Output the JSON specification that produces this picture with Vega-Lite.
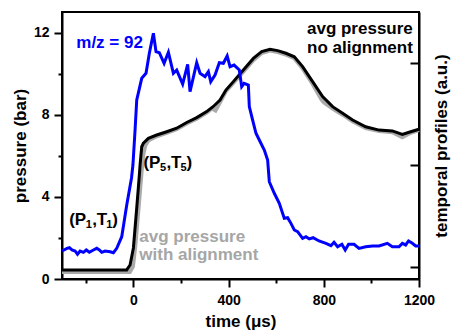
{
  "$schema": "https://vega.github.io/schema/vega-lite/v6.json",
  "width": 357,
  "height": 267,
  "autosize": "none",
  "padding": {"left": 62, "top": 12, "right": 33, "bottom": 51},
  "background": "white",
  "config": {
    "view": {"stroke": "black", "strokeWidth": 2},
    "font": "Liberation Sans",
    "axis": {
      "domainColor": "black", "domainWidth": 2,
      "tickColor": "black", "tickWidth": 2,
      "labelFont": "Liberation Sans", "labelFontWeight": "bold", "labelFontSize": 14, "labelColor": "black",
      "titleFont": "Liberation Sans", "titleFontWeight": "bold", "titleFontSize": 17, "titleColor": "black",
      "grid": false
    }
  },
  "datasets": {
    "blue": [
      {"t":-300,"v":0.157},{"t":-279,"v":0.183},{"t":-269,"v":0.189},{"t":-258,"v":0.167},{"t":-245,"v":0.157},{"t":-235,"v":0.125},{"t":-224,"v":0.157},{"t":-210,"v":0.144},{"t":-198,"v":0.167},{"t":-185,"v":0.144},{"t":-168,"v":0.167},{"t":-154,"v":0.183},{"t":-143,"v":0.167},{"t":-133,"v":0.144},{"t":-119,"v":0.157},{"t":-98,"v":0.150},{"t":-84,"v":0.140},{"t":-70,"v":0.183},{"t":-49,"v":0.297},{"t":-28,"v":0.608},{"t":-8,"v":0.873},{"t":-2,"v":1.0},{"t":7,"v":1.343},{"t":14,"v":1.637},{"t":35,"v":1.850},{"t":53,"v":1.899},{"t":67,"v":2.095},{"t":84,"v":2.291},{"t":95,"v":2.111},{"t":109,"v":2.101},{"t":129,"v":1.997},{"t":147,"v":2.105},{"t":168,"v":1.899},{"t":182,"v":1.931},{"t":207,"v":1.794},{"t":228,"v":1.987},{"t":238,"v":1.719},{"t":266,"v":2.003},{"t":280,"v":1.899},{"t":301,"v":1.866},{"t":315,"v":1.915},{"t":325,"v":1.817},{"t":343,"v":1.882},{"t":361,"v":2.003},{"t":378,"v":1.997},{"t":394,"v":2.069},{"t":406,"v":1.964},{"t":423,"v":1.980},{"t":445,"v":1.931},{"t":455,"v":1.768},{"t":465,"v":1.801},{"t":483,"v":1.784},{"t":487,"v":1.572},{"t":501,"v":1.441},{"t":515,"v":1.311},{"t":529,"v":1.245},{"t":550,"v":1.147},{"t":564,"v":1.049},{"t":571,"v":0.836},{"t":592,"v":0.723},{"t":613,"v":0.625},{"t":634,"v":0.477},{"t":648,"v":0.483},{"t":662,"v":0.428},{"t":676,"v":0.363},{"t":690,"v":0.346},{"t":711,"v":0.281},{"t":725,"v":0.297},{"t":739,"v":0.275},{"t":755,"v":0.287},{"t":780,"v":0.255},{"t":809,"v":0.232},{"t":830,"v":0.209},{"t":843,"v":0.242},{"t":858,"v":0.199},{"t":876,"v":0.223},{"t":890,"v":0.167},{"t":904,"v":0.223},{"t":927,"v":0.223},{"t":948,"v":0.183},{"t":976,"v":0.199},{"t":1005,"v":0.206},{"t":1032,"v":0.206},{"t":1067,"v":0.232},{"t":1088,"v":0.199},{"t":1116,"v":0.199},{"t":1130,"v":0.232},{"t":1144,"v":0.216},{"t":1156,"v":0.255},{"t":1172,"v":0.232},{"t":1186,"v":0.206},{"t":1200,"v":0.206}
    ],
    "black": [
      {"t":-300,"p":0.44},{"t":-28,"p":0.44},{"t":-14,"p":0.68},{"t":0,"p":1.51},{"t":14,"p":3.46},{"t":25,"p":5.06},{"t":28,"p":5.55},{"t":35,"p":6.44},{"t":42,"p":6.61},{"t":63,"p":6.85},{"t":98,"p":7.01},{"t":140,"p":7.17},{"t":182,"p":7.34},{"t":224,"p":7.62},{"t":266,"p":7.86},{"t":308,"p":8.15},{"t":336,"p":8.40},{"t":364,"p":8.71},{"t":389,"p":9.20},{"t":420,"p":9.61},{"t":462,"p":10.18},{"t":504,"p":10.74},{"t":539,"p":11.07},{"t":574,"p":11.18},{"t":606,"p":11.12},{"t":641,"p":10.99},{"t":676,"p":10.82},{"t":711,"p":10.34},{"t":753,"p":9.61},{"t":795,"p":8.88},{"t":837,"p":8.39},{"t":879,"p":8.07},{"t":921,"p":7.74},{"t":976,"p":7.41},{"t":1032,"p":7.25},{"t":1088,"p":7.21},{"t":1130,"p":7.04},{"t":1165,"p":7.17},{"t":1200,"p":7.29}
    ],
    "gray": [
      {"t":-300,"p":0.34},{"t":-15,"p":0.34},{"t":-2,"p":0.6},{"t":8,"p":1.6},{"t":22,"p":3.5},{"t":35,"p":5.3},{"t":42,"p":6.1},{"t":50,"p":6.5},{"t":63,"p":6.75},{"t":98,"p":6.95},{"t":140,"p":7.12},{"t":182,"p":7.3},{"t":224,"p":7.57},{"t":266,"p":7.8},{"t":308,"p":8.1},{"t":330,"p":8.3},{"t":345,"p":8.2},{"t":364,"p":8.6},{"t":389,"p":9.15},{"t":420,"p":9.55},{"t":462,"p":10.1},{"t":504,"p":10.65},{"t":539,"p":11.0},{"t":574,"p":11.12},{"t":606,"p":11.05},{"t":641,"p":10.92},{"t":676,"p":10.75},{"t":711,"p":10.25},{"t":753,"p":9.5},{"t":790,"p":8.75},{"t":800,"p":8.6},{"t":837,"p":8.3},{"t":879,"p":8.0},{"t":921,"p":7.68},{"t":976,"p":7.35},{"t":1032,"p":7.2},{"t":1088,"p":7.15},{"t":1130,"p":6.9},{"t":1165,"p":7.12},{"t":1200,"p":7.25}
    ],
    "states": [
      {"t": 42, "p": 5.65, "n": "5"},
      {"t": -270, "p": 2.87, "n": "1"}
    ]
  },
  "encoding": {
    "x": {"field": "t", "type": "quantitative", "scale": {"domain": [-300, 1200], "nice": false, "zero": false},
      "axis": {"title": "time (μs)", "values": [-200, 0, 200, 400, 600, 800, 1000, 1200], "format": "d",
        "labelExpr": "datum.value % 400 === 0 ? datum.label : ''",
        "tickSize": {"condition": {"test": "datum.value % 400 === 0", "value": 8}, "value": 4},
        "labelPadding": 6, "titlePadding": 6, "labelFlush": false}}
  },
  "layer": [
    {
      "encoding": {
        "y": {"field": "p", "type": "quantitative", "scale": {"domain": [0, 13], "nice": false, "zero": false},
          "axis": {"title": "pressure (bar)", "values": [0, 2, 4, 6, 8, 10, 12],
            "labelExpr": "datum.value % 4 === 0 ? datum.label : ''",
            "tickSize": {"condition": {"test": "datum.value % 4 === 0", "value": 8}, "value": 4},
            "labelPadding": 5, "titlePadding": 4, "labelFlush": false}}
      },
      "layer": [
        {
          "data": {"name": "gray"},
          "mark": {"type": "line", "color": "#aaaaaa", "strokeWidth": 4}
        },
        {
          "data": {"name": "black"},
          "mark": {"type": "line", "color": "black", "strokeWidth": 3}
        },
        {
          "data": {"values": [{"t": 1174, "p": 12.17, "label": "avg pressure"}, {"t": 1174, "p": 11.25, "label": "no alignment"}]},
          "mark": {"type": "text", "align": "right", "baseline": "middle", "font": "Liberation Sans", "fontWeight": "bold", "fontSize": 17, "color": "black"},
          "encoding": {"text": {"field": "label"}}
        },
        {
          "data": {"name": "states"},
          "mark": {"type": "text", "align": "left", "baseline": "middle", "font": "Liberation Sans", "fontWeight": "bold", "fontSize": 17, "color": "black"},
          "encoding": {"text": {"value": "(P"}}
        },
        {
          "data": {"name": "states"},
          "mark": {"type": "text", "align": "left", "baseline": "middle", "dx": 16.5, "dy": 5, "font": "Liberation Sans", "fontWeight": "bold", "fontSize": 11, "color": "black"},
          "encoding": {"text": {"field": "n"}}
        },
        {
          "data": {"name": "states"},
          "mark": {"type": "text", "align": "left", "baseline": "middle", "dx": 23, "font": "Liberation Sans", "fontWeight": "bold", "fontSize": 17, "color": "black"},
          "encoding": {"text": {"value": ",T"}}
        },
        {
          "data": {"name": "states"},
          "mark": {"type": "text", "align": "left", "baseline": "middle", "dx": 37, "dy": 5, "font": "Liberation Sans", "fontWeight": "bold", "fontSize": 11, "color": "black"},
          "encoding": {"text": {"field": "n"}}
        },
        {
          "data": {"name": "states"},
          "mark": {"type": "text", "align": "left", "baseline": "middle", "dx": 43, "font": "Liberation Sans", "fontWeight": "bold", "fontSize": 17, "color": "black"},
          "encoding": {"text": {"value": ")"}}
        },
        {
          "data": {"values": [{"t": 25, "p": 2.06, "label": "avg pressure"}, {"t": 25, "p": 1.17, "label": "with alignment"}]},
          "mark": {"type": "text", "align": "left", "baseline": "middle", "font": "Liberation Sans", "fontWeight": "bold", "fontSize": 17, "color": "#a6a6a6"},
          "encoding": {"text": {"field": "label"}}
        },
        {
          "data": {"values": [{"t": -240, "p": 11.49, "label": "m/z = 92"}]},
          "mark": {"type": "text", "align": "left", "baseline": "middle", "font": "Liberation Sans", "fontWeight": "bold", "fontSize": 17, "color": "#0000ff"},
          "encoding": {"text": {"field": "label"}}
        }
      ]
    },
    {
      "data": {"name": "blue"},
      "mark": {"type": "line", "color": "#0000ff", "strokeWidth": 3},
      "encoding": {
        "y": {"field": "v", "type": "quantitative", "scale": {"domain": [-0.1176, 2.5], "nice": false, "zero": false},
          "axis": {"orient": "right", "title": "temporal profiles (a.u.)", "values": [0, 1, 2], "labels": false,
            "tickSize": -9, "titleAngle": 270, "titleBaseline": "top", "titlePadding": 13}}
      }
    }
  ],
  "resolve": {"scale": {"y": "independent"}}
}
